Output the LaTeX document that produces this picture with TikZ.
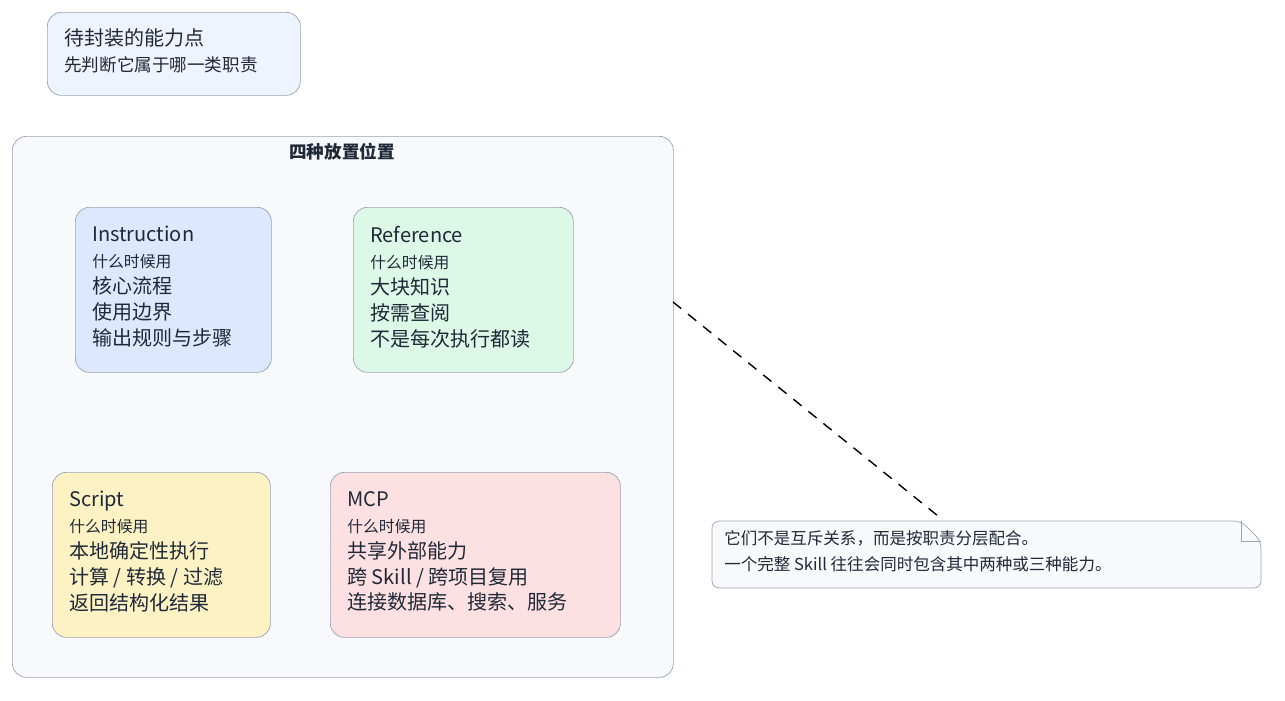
\documentclass[tikz,border=0pt]{standalone}
\usepackage{fontspec}
\setmainfont{Noto Sans CJK SC}
\usetikzlibrary{positioning}
\definecolor{edgegray}{HTML}{9AA3B5}
\definecolor{inkdark}{HTML}{1F2937}
\definecolor{panelbg}{HTML}{F8F9FB}
\definecolor{topbg}{HTML}{EEF4FD}
\definecolor{instbg}{HTML}{DBE8FD}
\definecolor{refbg}{HTML}{DCF9E8}
\definecolor{scrbg}{HTML}{FDF2C4}
\definecolor{mcpbg}{HTML}{FDE0E2}
\tikzset{
  box/.style={draw=edgegray, rounded corners=8pt, inner sep=0pt, anchor=north west},
  txt/.style={anchor=north west, inner sep=0pt, align=left, text=inkdark,
    font=\fontsize{11.4}{14.74}\selectfont},
}
\newcommand{\sm}[1]{{\fontsize{9}{14.74}\selectfont #1}}
\begin{document}
\begin{tikzpicture}
    \useasboundingbox (0,0) rectangle (25.7,-14);
    % Header box
    \node[box, fill=topbg, minimum width=5.06cm, minimum height=1.66cm] (cap) at (0.94,-0.24) {};
    \node[txt] (capt) at (1.28,-0.56) {待封装的能力点\\{\fontsize{10}{14.74}\selectfont 先判断它属于哪一类职责}};

    % Container
    \node[box, fill=panelbg, minimum width=13.22cm, minimum height=10.82cm] (panel) at (0.24,-2.72) {};
    \node[text=inkdark, font=\bfseries\fontsize{10}{12}\selectfont] (title) at (6.84,-3.04) {四种放置位置};

    % Four kinds
    \node[box, fill=instbg, minimum width=3.92cm, minimum height=3.3cm] (inst) at (1.5,-4.14) {};
    \node[txt] (instt) at ([xshift=0.34cm,yshift=-0.38cm]inst.north west)
      {Instruction\\\sm{什么时候用}\\核心流程\\使用边界\\输出规则与步骤};
    \node[box, fill=refbg, minimum width=4.4cm, minimum height=3.3cm] (ref) at (7.06,-4.14) {};
    \node[txt] (reft) at ([xshift=0.34cm,yshift=-0.38cm]ref.north west)
      {Reference\\\sm{什么时候用}\\大块知识\\按需查阅\\不是每次执行都读};
    \node[box, fill=scrbg, minimum width=4.36cm, minimum height=3.3cm] (scr) at (1.04,-9.44) {};
    \node[txt] (scrt) at ([xshift=0.34cm,yshift=-0.38cm]scr.north west)
      {Script\\\sm{什么时候用}\\本地确定性执行\\计算 / 转换 / 过滤\\返回结构化结果};
    \node[box, fill=mcpbg, minimum width=5.8cm, minimum height=3.3cm] (mcp) at (6.6,-9.44) {};
    \node[txt] (mcpt) at ([xshift=0.34cm,yshift=-0.38cm]mcp.north west)
      {MCP\\\sm{什么时候用}\\共享外部能力\\跨 Skill / 跨项目复用\\连接数据库、搜索、服务};

    % Note with folded corner
    \coordinate (nw) at (14.24,-10.42);
    \coordinate (fold) at (24.82,-10.42);
    \coordinate (foldb) at (25.22,-10.82);
    \coordinate (se) at (25.22,-11.76);
    \draw[draw=edgegray, fill=panelbg, rounded corners=4pt]
      (nw) -- (fold) -- (foldb) -- (se) -- (14.24,-11.76) -- cycle;
    \draw[draw=edgegray] (fold) -- (24.82,-10.82) -- (foldb);
    \node[txt, font=\fontsize{9.4}{14.74}\selectfont] (notet) at (14.48,-10.6)
      {它们不是互斥关系，而是按职责分层配合。\\一个完整 Skill 往往会同时包含其中两种或三种能力。};
    \coordinate (notetop) at (18.76,-10.32);
    \coordinate (panelside) at (13.46,-6.04);
    \draw[dashed, thick, dash pattern=on 6pt off 5pt] (panelside) -- (notetop);
\end{tikzpicture}
\end{document}
